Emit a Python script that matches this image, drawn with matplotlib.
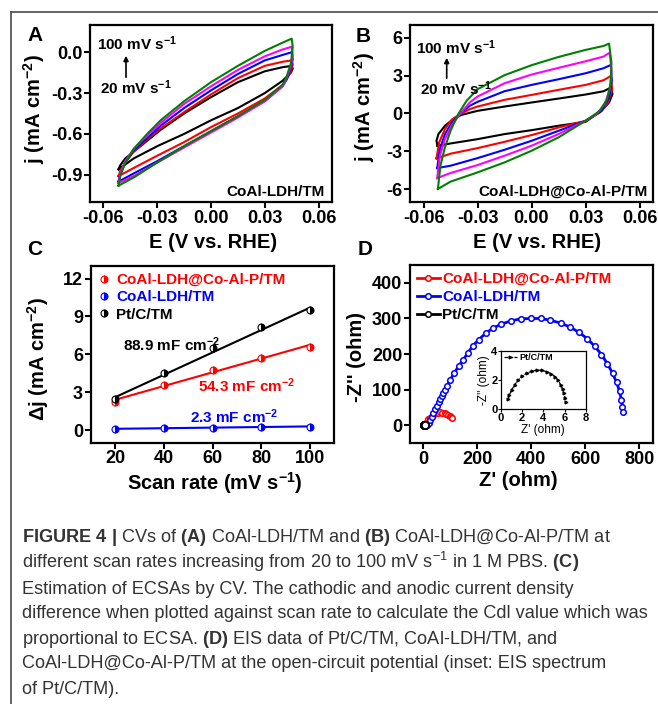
import numpy as np
import matplotlib
matplotlib.use('Agg')
import matplotlib.pyplot as plt
from matplotlib.lines import Line2D

plt.rcParams['font.family'] = ['Liberation Sans', 'DejaVu Sans']
plt.rcParams['font.weight'] = 'bold'
plt.rcParams['mathtext.fontset'] = 'custom'
plt.rcParams['mathtext.rm'] = 'Liberation Sans'
plt.rcParams['mathtext.bf'] = 'Liberation Sans:bold'
plt.rcParams['mathtext.it'] = 'Liberation Sans:italic'
plt.rcParams['mathtext.default'] = 'regular'
plt.rcParams['axes.unicode_minus'] = False
plt.rcParams['axes.linewidth'] = 1.6

# ---------------- data ----------------
scan_rates = [20, 40, 60, 80, 100]

# Panel A: CoAl-LDH/TM CVs
A_E_up = [-0.0516, -0.0506, -0.0478, -0.0431, -0.0356, -0.0281, -0.0150, 0.0, 0.0150, 0.0300, 0.0399, 0.0450]
A_E_dn = [0.0456, 0.0446, 0.0422, 0.0399, 0.0300, 0.0150, 0.0, -0.0150, -0.0300, -0.0431, -0.0516]
A_j_up_20 = [-0.86, -0.83, -0.78, -0.73, -0.65, -0.57, -0.45, -0.33, -0.22, -0.14, -0.11, -0.10]
A_j_up_40 = [-0.91, -0.87, -0.81, -0.73, -0.64, -0.56, -0.44, -0.31, -0.19, -0.10, -0.07, -0.06]
A_j_up_60 = [-0.95, -0.89, -0.81, -0.72, -0.63, -0.54, -0.41, -0.28, -0.16, -0.06, -0.02, 0.00]
A_j_up_80 = [-0.96, -0.89, -0.80, -0.71, -0.61, -0.52, -0.38, -0.25, -0.13, -0.03, 0.02, 0.04]
A_j_up_100 = [-0.98, -0.91, -0.81, -0.71, -0.60, -0.50, -0.36, -0.22, -0.10, 0.01, 0.07, 0.10]
A_j_dn_20 = [-0.12, -0.15, -0.18, -0.21, -0.30, -0.41, -0.50, -0.60, -0.69, -0.78, -0.86]
A_j_dn_40 = [-0.09, -0.14, -0.20, -0.24, -0.34, -0.45, -0.55, -0.66, -0.76, -0.85, -0.91]
A_j_dn_60 = [-0.05, -0.12, -0.20, -0.25, -0.36, -0.47, -0.58, -0.69, -0.80, -0.89, -0.95]
A_j_dn_80 = [-0.02, -0.10, -0.19, -0.25, -0.36, -0.48, -0.59, -0.70, -0.81, -0.91, -0.96]
A_j_dn_100 = [0.04, -0.08, -0.18, -0.24, -0.35, -0.47, -0.58, -0.69, -0.81, -0.92, -0.98]

# Panel B: CoAl-LDH@Co-Al-P/TM CVs
B_E_up_20 = [-0.0522, -0.0528, -0.0517, -0.0481, -0.0435, -0.0389, -0.0300, -0.0150, 0.0, 0.0150, 0.0300, 0.0400, 0.0441]
B_j_up_20 = [-2.55, -2.16, -1.63, -0.97, -0.45, -0.11, 0.21, 0.55, 0.87, 1.18, 1.50, 1.76, 2.05]
B_E_dn_20 = [0.0450, 0.0431, 0.0389, 0.0300, 0.0150, 0.0, -0.0150, -0.0300, -0.0450, -0.0522]
B_j_dn_20 = [1.53, 0.87, 0.21, -0.66, -0.97, -1.32, -1.63, -2.03, -2.37, -2.55]

B_E_up_40 = [-0.0528, -0.0513, -0.0481, -0.0444, -0.0398, -0.0343, -0.0300, -0.0150, 0.0, 0.0150, 0.0300, 0.0400, 0.0441]
B_j_up_40 = [-3.55, -2.29, -1.24, -0.50, -0.05, 0.34, 0.55, 1.08, 1.47, 1.87, 2.26, 2.63, 2.97]
B_E_dn_40 = [0.0448, 0.0426, 0.0380, 0.0300, 0.0150, 0.0, -0.0150, -0.0300, -0.0450, -0.0528]
B_j_dn_40 = [1.92, 0.87, 0.08, -0.58, -1.11, -1.71, -2.24, -2.74, -3.18, -3.55]

B_E_up_60 = [-0.0524, -0.0509, -0.0481, -0.0444, -0.0398, -0.0343, -0.0300, -0.0150, 0.0, 0.0150, 0.0300, 0.0400, 0.0441]
B_j_up_60 = [-4.32, -2.82, -1.63, -0.76, -0.05, 0.61, 0.92, 1.76, 2.26, 2.71, 3.18, 3.58, 3.84]
B_E_dn_60 = [0.0446, 0.0431, 0.0389, 0.0300, 0.0150, 0.0, -0.0150, -0.0300, -0.0450, -0.0524]
B_j_dn_60 = [2.58, 1.26, 0.21, -0.58, -1.37, -2.16, -2.87, -3.53, -4.13, -4.32]

B_E_up_80 = [-0.0524, -0.0509, -0.0481, -0.0444, -0.0398, -0.0343, -0.0300, -0.0150, 0.0, 0.0150, 0.0300, 0.0400, 0.0435]
B_j_up_80 = [-5.11, -3.34, -2.03, -0.97, -0.05, 0.87, 1.34, 2.39, 3.08, 3.61, 4.13, 4.50, 4.82]
B_E_dn_80 = [0.0444, 0.0435, 0.0407, 0.0361, 0.0300, 0.0150, 0.0, -0.0150, -0.0300, -0.0450, -0.0524]
B_j_dn_80 = [3.37, 1.92, 0.74, -0.05, -0.58, -1.63, -2.55, -3.34, -4.08, -4.71, -5.11]

B_E_up_100 = [-0.0520, -0.0506, -0.0481, -0.0450, -0.0407, -0.0361, -0.0300, -0.0150, 0.0, 0.0150, 0.0300, 0.0400, 0.0431]
B_j_up_100 = [-5.97, -4.13, -2.68, -1.37, -0.05, 1.00, 1.92, 3.03, 3.82, 4.47, 5.03, 5.34, 5.53]
B_E_dn_100 = [0.0444, 0.0441, 0.0420, 0.0380, 0.0300, 0.0150, 0.0, -0.0150, -0.0300, -0.0450, -0.0520]
B_j_dn_100 = [4.03, 2.45, 1.13, 0.21, -0.58, -1.89, -2.95, -3.87, -4.66, -5.39, -5.97]

# Panel C: ECSA
C_rate = [20, 40, 60, 80, 100]
C_dj_P = [2.2, 3.6, 4.75, 5.75, 6.6]        # CoAl-LDH@Co-Al-P/TM
C_dj_LDH = [0.10, 0.15, 0.20, 0.25, 0.28]   # CoAl-LDH/TM
C_dj_Pt = [2.45, 4.55, 6.5, 8.2, 9.5]       # Pt/C/TM
C_fit_x = [20, 100]
C_fit_P = [2.4, 6.75]
C_fit_LDH = [0.10, 0.29]
C_fit_Pt = [2.6, 9.7]
C_labels = ['CoAl-LDH@Co-Al-P/TM', 'CoAl-LDH/TM', 'Pt/C/TM']
C_cdl = ['88.9', '54.3', '2.3']

# Panel D: EIS Nyquist
D_LDH_x = [12, 19, 25, 31, 37, 43, 50, 56, 62, 68, 74, 81, 87, 99, 114, 130, 146, 164, 184, 205,
           230, 258, 288, 323, 360, 397, 434, 471, 509, 543, 577, 608, 635, 660, 682, 701, 716,
           727, 734, 738, 739]
D_LDH_y = [0, 8, 16, 25, 35, 45, 55, 65, 74, 82, 91, 100, 110, 128, 147, 166, 183, 203, 224, 241,
           258, 273, 284, 293, 299, 300, 300, 295, 287, 276, 261, 243, 222, 199, 173, 147, 121,
           96, 72, 53, 39]
D_P_x = [6, 9, 13, 18, 24, 31, 38, 46, 54, 62, 70, 78, 85, 92, 98, 103, 106]
D_P_y = [2, 6, 11, 17, 22, 27, 31, 34, 36, 36.5, 36, 34.5, 32, 29, 26, 23, 20]
D_Pt_x = [0.69, 0.80, 1.01, 1.30, 1.63, 2.00, 2.43, 2.90, 3.37, 3.85, 4.32, 4.75, 5.10, 5.40,
          5.64, 5.82, 5.95, 6.05, 6.11]
D_Pt_y = [0.70, 1.00, 1.32, 1.68, 2.00, 2.28, 2.46, 2.60, 2.68, 2.65, 2.57, 2.42, 2.23, 1.98,
          1.66, 1.38, 1.09, 0.80, 0.52]

# ---------------- figure ----------------
W, H = 658, 704
fig = plt.figure(figsize=(W / 100, H / 100), dpi=100)


def rect(l, t, r, b):
    return [l / W, 1 - b / H, (r - l) / W, (b - t) / H]


def ftext(x, y, s, **kw):
    return fig.text(x / W, 1 - y / H, s, **kw)


cv_colors = ['black', '#ff0000', '#0000ff', '#ff00ff', '#008000']
RED, BLUE, BLACK = '#ff0000', '#0000ff', 'black'


def style(ax, size=13):
    ax.tick_params(direction='out', length=4, width=1.5, labelsize=size, pad=1.5)
    for s in ax.spines.values():
        s.set_linewidth(1.6)


# Panel A
axA = fig.add_axes(rect(90, 25, 332, 202))
A_up = [A_j_up_20, A_j_up_40, A_j_up_60, A_j_up_80, A_j_up_100]
A_dn = [A_j_dn_20, A_j_dn_40, A_j_dn_60, A_j_dn_80, A_j_dn_100]
for ju, jd, c in zip(A_up, A_dn, cv_colors):
    axA.plot(A_E_up + A_E_dn, ju + jd, color=c, lw=1.5, solid_joinstyle='round')
axA.set_xlim(-0.0675, 0.0675)
axA.set_ylim(-1.1, 0.2)
axA.set_xticks([-0.06, -0.03, 0.0, 0.03, 0.06])
axA.set_xticklabels(['-0.06', '-0.03', '0.00', '0.03', '0.06'])
axA.set_yticks([0.0, -0.3, -0.6, -0.9])
axA.set_yticklabels(['0.0', '-0.3', '-0.6', '-0.9'])
style(axA)

# Panel B
axB = fig.add_axes(rect(410, 25, 653, 202))
B_Eu = [B_E_up_20, B_E_up_40, B_E_up_60, B_E_up_80, B_E_up_100]
B_ju = [B_j_up_20, B_j_up_40, B_j_up_60, B_j_up_80, B_j_up_100]
B_Ed = [B_E_dn_20, B_E_dn_40, B_E_dn_60, B_E_dn_80, B_E_dn_100]
B_jd = [B_j_dn_20, B_j_dn_40, B_j_dn_60, B_j_dn_80, B_j_dn_100]
for eu, ju, ed, jd, c in zip(B_Eu, B_ju, B_Ed, B_jd, cv_colors):
    axB.plot(eu + ed, ju + jd, color=c, lw=1.5, solid_joinstyle='round')
axB.set_xlim(-0.0675, 0.0675)
axB.set_ylim(-7, 7)
axB.set_xticks([-0.06, -0.03, 0.0, 0.03, 0.06])
axB.set_xticklabels(['-0.06', '-0.03', '0.00', '0.03', '0.06'])
axB.set_yticks([6, 3, 0, -3, -6])
axB.set_yticklabels(['6', '3', '0', '-3', '-6'])
style(axB)

# Panel C
axC = fig.add_axes(rect(90.7, 266, 334.3, 442.7))
c_series = [(C_dj_P, C_fit_P, RED), (C_dj_LDH, C_fit_LDH, BLUE), (C_dj_Pt, C_fit_Pt, BLACK)]
for dj, fit, c in c_series:
    axC.plot(C_fit_x, fit, color=c, lw=1.5, zorder=2)
    axC.plot(C_rate, dj, ls='none', marker='o', ms=5, color=c, fillstyle='right',
             markerfacecoloralt='white', mew=0.8, zorder=3)
axC.set_xlim(10, 110)
axC.set_ylim(-1, 13)
axC.set_xticks([20, 40, 60, 80, 100])
axC.set_yticks([0, 3, 6, 9, 12])
style(axC)
hC = [Line2D([], [], ls='none', marker='o', ms=5, color=c, fillstyle='right',
             markerfacecoloralt='white', mew=0.8) for c in (RED, BLUE, BLACK)]
legC = axC.legend(hC, C_labels, loc='upper left', bbox_to_anchor=(0.0, 1.0), frameon=False,
                  fontsize=11, handlelength=0.8, handletextpad=0.4, labelspacing=0.22,
                  borderaxespad=0.25, borderpad=0.2)
for t, c in zip(legC.get_texts(), (RED, BLUE, BLACK)):
    t.set_color(c)

# Panel D
axD = fig.add_axes(rect(410, 265, 652.7, 443.3))
axD.plot(D_LDH_x, D_LDH_y, color=BLUE, lw=2.0, marker='o', ms=4, mfc='white', mew=1.1, zorder=3)
axD.plot(D_P_x, D_P_y, color=RED, lw=2.0, marker='o', ms=4, mfc='white', mew=1.1, zorder=2)
axD.plot(D_Pt_x, D_Pt_y, color=BLACK, lw=1.5, marker='o', ms=5, mfc='white', mew=1.1, zorder=4)
axD.set_xlim(-50, 850)
axD.set_ylim(-50, 450)
axD.set_xticks([0, 200, 400, 600, 800])
axD.set_yticks([0, 100, 200, 300, 400])
style(axD)
hD = [Line2D([], [], color=c, lw=2, marker='o', ms=4, mfc='white', mew=1.1) for c in (RED, BLUE, BLACK)]
legD = axD.legend(hD, C_labels, loc='upper left', bbox_to_anchor=(0.0, 1.0), frameon=False,
                  fontsize=11, handlelength=1.5, handletextpad=0.15, labelspacing=0.28,
                  borderaxespad=0.25, borderpad=0.2)
for t, c in zip(legD.get_texts(), (RED, BLUE, BLACK)):
    t.set_color(c)

# Inset
axI = fig.add_axes(rect(501, 350.7, 585.7, 409.3))
axI.plot(D_Pt_x, D_Pt_y, color=BLACK, lw=0.9, ls=(0, (3, 1)), marker='>', ms=2)
axI.set_xlim(0, 8)
axI.set_ylim(0, 4)
axI.set_xticks([0, 2, 4, 6, 8])
axI.set_yticks([0, 2, 4])
axI.tick_params(direction='out', length=2, width=0.8, labelsize=8, pad=0.5)
for s in axI.spines.values():
    s.set_linewidth(0.9)
axI.set_xlabel("Z' (ohm)", fontsize=8.5, labelpad=1)
axI.set_ylabel("-Z'' (ohm)", fontsize=8.5, labelpad=1)
hI = [Line2D([], [], color=BLACK, lw=0.9, ls=(0, (3, 1)), marker='>', ms=2)]
axI.legend(hI, ['Pt/C/TM'], loc='upper left', frameon=False, fontsize=6.5,
           handlelength=1.5, handletextpad=0.2, borderaxespad=0.2, borderpad=0.1)

# ---------------- texts ----------------
ftext(35.5, 35.5, 'A', fontsize=15, ha='center', va='center')
ftext(363.5, 36, 'B', fontsize=15, ha='center', va='center')
ftext(34.5, 249, 'C', fontsize=15, ha='center', va='center')
ftext(365, 249, 'D', fontsize=15, ha='center', va='center')

ftext(34, 109, r'j (mA cm$^{-2}$)', fontsize=14.5, rotation=90, ha='center', va='center')
ftext(364, 107, r'j (mA cm$^{-2}$)', fontsize=14.5, rotation=90, ha='center', va='center')
ftext(38, 359, r'$\Delta$j (mA cm$^{-2}$)', fontsize=14.5, rotation=90, ha='center', va='center')
ftext(357, 357, "-Z'' (ohm)", fontsize=14.5, rotation=90, ha='center', va='center')
ftext(213, 243, 'E (V vs. RHE)', fontsize=14.5, ha='center', va='center')
ftext(537, 243, 'E (V vs. RHE)', fontsize=14.5, ha='center', va='center')
ftext(215, 483, r'Scan rate (mV s$^{-1}$)', fontsize=14.5, ha='center', va='center')
ftext(518, 481, "Z' (ohm)", fontsize=14.5, ha='center', va='center')

ftext(96.7, 43.3, r'100 mV s$^{-1}$', fontsize=11, ha='left', va='center')
ftext(100, 87.3, r'20 mV s$^{-1}$', fontsize=11, ha='left', va='center')
ftext(416, 47.7, r'100 mV s$^{-1}$', fontsize=11, ha='left', va='center')
ftext(420, 88.3, r'20 mV s$^{-1}$', fontsize=11, ha='left', va='center')
for x0, y0, y1 in [(126, 80, 53), (446.7, 81, 55)]:
    fig.add_artist(matplotlib.patches.FancyArrowPatch(
        (x0 / W, 1 - y0 / H), (x0 / W, 1 - y1 / H), transform=fig.transFigure,
        arrowstyle='-|>', mutation_scale=7, lw=1.2, color='black'))

ftext(325, 191.7, 'CoAl-LDH/TM', fontsize=11, ha='right', va='center')
ftext(648, 191.7, 'CoAl-LDH@Co-Al-P/TM', fontsize=11, ha='right', va='center')

ftext(123, 345, C_cdl[0] + r' mF cm$^{-2}$', fontsize=11, ha='left', va='center', color=BLACK)
ftext(198.3, 386, C_cdl[1] + r' mF cm$^{-2}$', fontsize=11, ha='left', va='center', color=RED)
ftext(190, 416.7, C_cdl[2] + r' mF cm$^{-2}$', fontsize=11, ha='left', va='center', color=BLUE)

# frame
fig.add_artist(Line2D([11 / W, 11 / W], [0, 1 - 12 / H], transform=fig.transFigure, color='#4a4a4a', lw=1.2))
fig.add_artist(Line2D([11 / W, 1], [1 - 12 / H, 1 - 12 / H], transform=fig.transFigure, color='#4a4a4a', lw=1.2))

# caption
cap_lines = [
    r'$\mathbf{FIGURE\ 4\ |}$ CVs of $\mathbf{(A)}$ CoAl-LDH/TM and $\mathbf{(B)}$ CoAl-LDH@Co-Al-P/TM at',
    r'different scan rates increasing from 20 to 100 mV s$^{-1}$ in 1 M PBS. $\mathbf{(C)}$',
    'Estimation of ECSAs by CV. The cathodic and anodic current density',
    'difference when plotted against scan rate to calculate the Cdl value which was',
    r'proportional to ECSA. $\mathbf{(D)}$ EIS data of Pt/C/TM, CoAl-LDH/TM, and',
    'CoAl-LDH@Co-Al-P/TM at the open-circuit potential (inset: EIS spectrum',
    'of Pt/C/TM).',
]
cap_y = [536, 562, 588, 613, 638, 663, 688]
cap_texts = [ftext(22, y + 5.5, s, fontsize=11, fontweight='normal', color='#333333',
                   ha='left', va='baseline')
             for s, y in zip(cap_lines, cap_y)]
fig.canvas.draw()
r = fig.canvas.get_renderer()
wref = cap_texts[3].get_window_extent(r).width
scale = 628.0 / wref
for t in cap_texts:
    t.set_fontsize(11 * scale)

fig.savefig('out.png', dpi=100)
